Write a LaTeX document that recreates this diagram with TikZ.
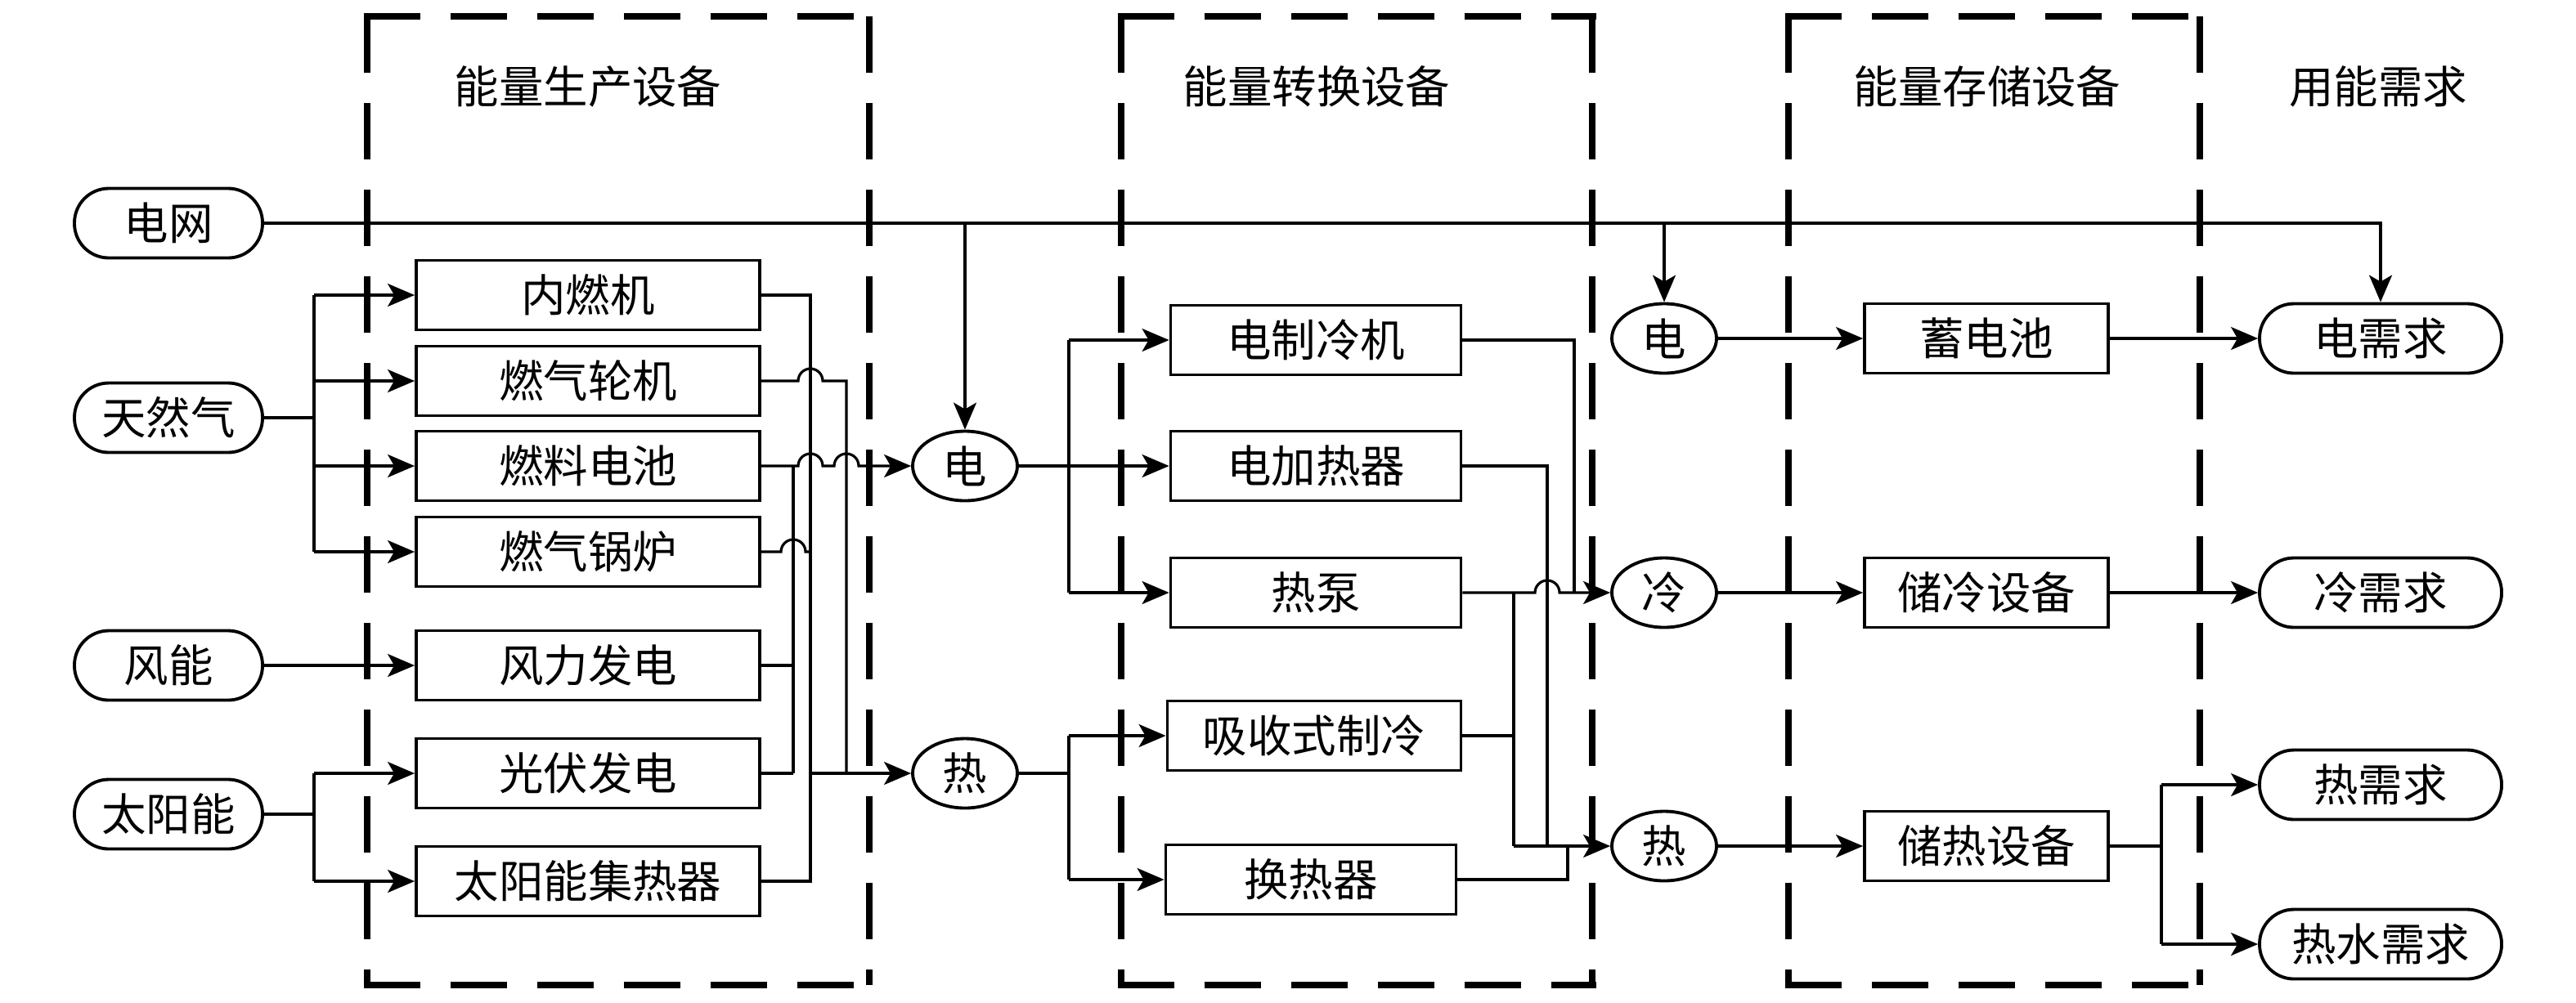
\documentclass[tikz,border=0pt]{standalone}
\usepackage{fontspec}
\usepackage{tikz}
\usetikzlibrary{arrows.meta, calc, shapes.geometric}
\newfontfamily\cjk{Noto Sans CJK SC}

\begin{document}
\begin{tikzpicture}[>={Stealth[length=0.33cm, width=0.28cm, inset=0.08cm]},
    font=\cjk\fontsize{15.5pt}{18pt}\selectfont,
    line width=0.9pt,
    src/.style={draw, line width=1.1pt, rounded corners=0.42cm, minimum width=2.30cm, minimum height=0.85cm, inner sep=0pt},
    dev/.style={draw, line width=1.1pt, minimum height=0.85cm, inner sep=0pt},
    bus/.style={draw, ellipse, line width=1.1pt, minimum width=1.28cm, minimum height=0.85cm, inner sep=0pt},
    group/.style={line width=2.5pt, dash pattern=on 0.69cm off 0.37cm}]
    \useasboundingbox (0,0) rectangle (31.5,-12.26);

    % Dashed groups and titles
    \foreach \xa/\xb in {4.49/10.63, 13.71/19.47, 21.87/26.90} {
        \draw[group] (\xa-0.045,-0.20) -- (\xb+0.045,-0.20);
        \draw[group] (\xa,-0.20) -- (\xa,-12.05);
        \draw[group] (\xa-0.045,-12.05) -- (\xb+0.045,-12.05);
        \draw[group] (\xb,-0.20) -- (\xb,-12.05);
    }
    \node (tprod) at (7.19,-1.06) {能量生产设备};
    \node (tconv) at (16.10,-1.06) {能量转换设备};
    \node (tstor) at (24.30,-1.06) {能量存储设备};
    \node (tdem) at (29.08,-1.06) {用能需求};

    % Sources
    \node[src] (grid) at (2.06,-2.73) {电网};
    \node[src] (gas) at (2.06,-5.11) {天然气};
    \node[src] (wind) at (2.06,-8.14) {风能};
    \node[src] (solar) at (2.06,-9.96) {太阳能};

    % Production
    \node[dev, minimum width=4.20cm] (ice) at (7.19,-3.61) {内燃机};
    \node[dev, minimum width=4.20cm] (gt) at (7.19,-4.66) {燃气轮机};
    \node[dev, minimum width=4.20cm] (fc) at (7.19,-5.70) {燃料电池};
    \node[dev, minimum width=4.20cm] (gb) at (7.19,-6.75) {燃气锅炉};
    \node[dev, minimum width=4.20cm] (wt) at (7.19,-8.14) {风力发电};
    \node[dev, minimum width=4.20cm] (pv) at (7.19,-9.46) {光伏发电};
    \node[dev, minimum width=4.20cm] (stc) at (7.19,-10.78) {太阳能集热器};

    % Buses
    \node[bus] (elA) at (11.80,-5.70) {电};
    \node[bus] (htA) at (11.80,-9.46) {热};
    \node[bus] (elB) at (20.35,-4.14) {电};
    \node[bus] (clB) at (20.35,-7.25) {冷};
    \node[bus] (htB) at (20.35,-10.35) {热};

    % Conversion
    \node[dev, minimum width=3.55cm] (ec) at (16.09,-4.16) {电制冷机};
    \node[dev, minimum width=3.55cm] (eh) at (16.09,-5.70) {电加热器};
    \node[dev, minimum width=3.55cm] (hp) at (16.09,-7.25) {热泵};
    \node[dev, minimum width=3.59cm] (ac) at (16.07,-9.00) {吸收式制冷};
    \node[dev, minimum width=3.55cm] (hx) at (16.03,-10.76) {换热器};

    % Storage
    \node[dev, minimum width=2.98cm] (bat) at (24.29,-4.14) {蓄电池};
    \node[dev, minimum width=2.98cm] (cst) at (24.29,-7.25) {储冷设备};
    \node[dev, minimum width=2.98cm] (hst) at (24.29,-10.35) {储热设备};

    % Demand
    \node[src, minimum width=2.96cm] (ed) at (29.11,-4.14) {电需求};
    \node[src, minimum width=2.96cm] (cd) at (29.11,-7.25) {冷需求};
    \node[src, minimum width=2.96cm] (hd) at (29.11,-9.60) {热需求};
    \node[src, minimum width=2.96cm] (hwd) at (29.11,-11.55) {热水需求};

    % Bus columns
    \coordinate (gx) at (3.84,0);
    \coordinate (ex) at (9.70,0);
    \coordinate (hx1) at (9.91,0);
    \coordinate (hx2) at (10.35,0);
    \coordinate (sx) at (13.07,0);
    \coordinate (ox1) at (19.25,0);
    \coordinate (ox2) at (18.92,0);
    \coordinate (ox3) at (18.51,0);
    \coordinate (ox4) at (19.17,0);
    \coordinate (dx) at (26.43,0);

    % Grid
    \draw[->] (grid.east) -| (ed.north);
    \draw[->] (grid.east -| elA.north) -- (elA.north);
    \draw[->] (grid.east -| elB.north) -- (elB.north);

    % Gas, wind, solar inputs
    \draw (gas.east) -- (gas.east -| gx);
    \draw (gx |- ice.west) -- (gx |- gb.west);
    \foreach \n in {ice,gt,fc,gb}
        \draw[->] (gx |- \n.west) -- (\n.west);
    \draw[->] (wind.east) -- (wt.west);
    \draw (solar.east) -- (solar.east -| gx);
    \draw (gx |- pv.west) -- (gx |- stc.west);
    \draw[->] (gx |- pv.west) -- (pv.west);
    \draw[->] (gx |- stc.west) -- (stc.west);

    % Production outputs (with hops)
    \draw (ice.east) -| (hx1 |- htA.west);
    \draw (gt.east) -- ($(gt.east -| hx1)+(-0.15,0)$) arc[start angle=180, end angle=0, radius=0.15] -| (hx2 |- htA.west);
    \draw (fc.east -| ex) -- (ex |- pv.east);
    \draw[->] (fc.east) -- ($(fc.east -| hx1)+(-0.15,0)$) arc[start angle=180, end angle=0, radius=0.15]
        -- ($(fc.east -| hx2)+(-0.15,0)$) arc[start angle=180, end angle=0, radius=0.15] -- (elA.west);
    \draw (gb.east) -- ($(gb.east -| ex)+(-0.15,0)$) arc[start angle=180, end angle=0, radius=0.15] -- (gb.east -| hx1);
    \draw (wt.east) -- (wt.east -| ex);
    \draw (pv.east) -- (pv.east -| ex);
    \draw (stc.east) -| (hx1 |- htA.west);
    \draw[->] (hx1 |- htA.west) -- (htA.west);

    % Conversion inputs
    \draw[->] (elA.east) -- (eh.west);
    \draw (sx |- ec.west) -- (sx |- hp.west);
    \draw[->] (sx |- ec.west) -- (ec.west);
    \draw[->] (sx |- hp.west) -- (hp.west);
    \draw (htA.east) -- (htA.east -| sx);
    \draw (sx |- ac.west) -- (sx |- hx.west);
    \draw[->] (sx |- ac.west) -- (ac.west);
    \draw[->] (sx |- hx.west) -- (hx.west);

    % Conversion outputs
    \draw (ec.east) -| (ox1 |- clB.west);
    \draw (eh.east) -| (ox2 |- htB.west);
    \draw[->] (hp.east) -- ($(hp.east -| ox2)+(-0.15,0)$) arc[start angle=180, end angle=0, radius=0.15] -- (clB.west);
    \draw (ox3 |- hp.east) -- (ox3 |- htB.west);
    \draw (ac.east) -- (ac.east -| ox3);
    \draw (hx.east) -| (ox4 |- htB.west);
    \draw[->] (ox3 |- htB.west) -- (htB.west);

    % Storage and demand
    \draw[->] (elB.east) -- (bat.west);
    \draw[->] (clB.east) -- (cst.west);
    \draw[->] (htB.east) -- (hst.west);
    \draw[->] (bat.east) -- (ed.west);
    \draw[->] (cst.east) -- (cd.west);
    \draw (hst.east) -- (hst.east -| dx);
    \draw (dx |- hd.west) -- (dx |- hwd.west);
    \draw[->] (dx |- hd.west) -- (hd.west);
    \draw[->] (dx |- hwd.west) -- (hwd.west);
\end{tikzpicture}
\end{document}
